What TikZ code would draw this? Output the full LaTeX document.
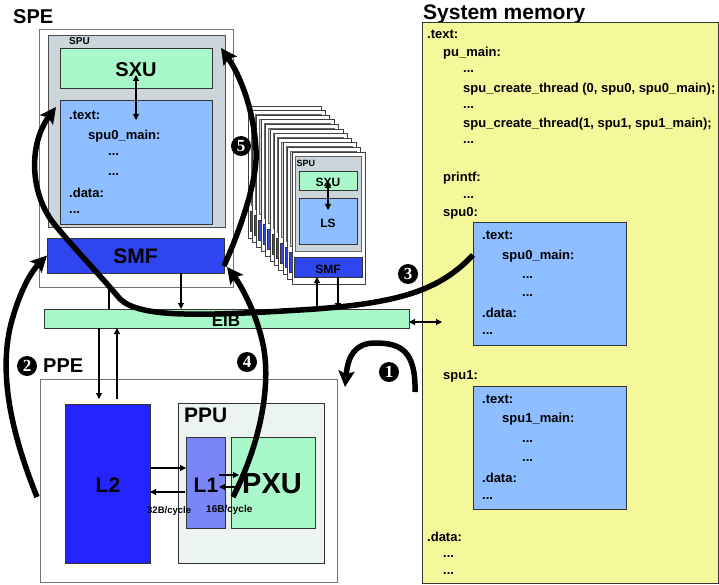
\documentclass[tikz,border=0pt]{standalone}
\usepackage{fontspec}
\setmainfont{Liberation Sans}
\newfontfamily\numfont{Liberation Serif}
\usetikzlibrary{arrows.meta}

\definecolor{mint}{HTML}{A9F8CA}
\definecolor{lsblue}{HTML}{8EBEFF}
\definecolor{smfblue}{HTML}{2E45F0}
\definecolor{ltwo}{HTML}{2424FF}
\definecolor{lone}{HTML}{7A86F8}
\definecolor{spugray}{HTML}{CCD5DA}
\definecolor{ppugray}{HTML}{ECF4F2}
\definecolor{memyellow}{HTML}{F5F79B}

\tikzset{
  fs/.style={font=\bfseries\fontsize{#1}{#1}\selectfont},
  box/.style={draw=black!80, line width=0.9pt, inner sep=0pt, outer sep=0pt, anchor=north west},
  code/.style={fs=13, inner sep=0pt, anchor=base west},
  title/.style={inner sep=0pt, anchor=base west},
  mid/.style={inner sep=0pt, anchor=base},
  link/.style={line width=1.1pt, -{Triangle[length=6pt,width=6pt]}},
  link2/.style={line width=1.1pt, {Triangle[length=6pt,width=6pt]}-{Triangle[length=6pt,width=6pt]}},
  flow/.style={line width=5.5pt, -{Stealth[length=16pt,width=16pt,inset=3pt]}},
  badge/.style={circle, fill=black, text=white, inner sep=0pt, minimum size=20pt,
                font=\numfont\bfseries\fontsize{17}{17}\selectfont},
}

\begin{document}
\begin{tikzpicture}[x=1pt,y=-1pt]
\useasboundingbox (0,0) rectangle (719,585);
\fill[white] (0,0) rectangle (719,585);

% ---------------- SPE 0 ----------------
\node[title, fs=20] (spelabel) at (13,23.5) {SPE};
\node[box, draw=black!55, fill=white, minimum width=194pt, minimum height=258pt] (spe) at (39,29) {};
\node[box, draw=black!70, fill=spugray, minimum width=177pt, minimum height=192pt] (spu) at (48,35) {};
\node[title, fs=10] (spulabel) at (69,44.5) {SPU};
\node[box, fill=mint, minimum width=152pt, minimum height=40pt] (sxu) at (60,48) {};
\node[mid, fs=20] (sxulabel) at (136,77) {SXU};
\node[box, fill=lsblue, minimum width=152pt, minimum height=124pt] (ls) at (60,100) {};
\node[code] (ls1) at (69,119.5) {.text:};
\node[code] (ls2) at (88,139.5) {spu0\_main:};
\node[code] (ls3) at (108,156) {...};
\node[code] (ls4) at (108,176) {...};
\node[code] (ls5) at (69,197.5) {.data:};
\node[code] (ls6) at (69,214) {...};
\draw[link2] ([yshift=-7pt]sxu.center) -- ([yshift=42pt]ls.center);
\node[box, fill=smfblue, minimum width=177pt, minimum height=35pt] (smf) at (47,238) {};
\node[mid, fs=21] (smflabel) at (135.5,263) {SMF};

% ---------------- stack of further SPEs (only the front one is labelled) ----------------
\foreach \i in {0,...,10} {
  \pgfmathsetmacro\cx{248+4.4*\i}
  \pgfmathsetmacro\cy{106+4.6*\i}
  \begin{scope}[shift={(\cx,\cy)}]
    \node[box, draw=black!75, fill=white, minimum width=73pt, minimum height=132pt] (card\i) at (0,0) {};
    \node[box, draw=black!60, fill=spugray, minimum width=66pt, minimum height=95pt] (cspu\i) at (3,4) {};
    \node[box, fill=mint, minimum width=58pt, minimum height=19pt] (csxu\i) at (7,19) {};
    \node[box, fill=lsblue, minimum width=58pt, minimum height=46pt] (cls\i) at (7,46) {};
    \node[box, fill=smfblue, minimum width=68pt, minimum height=20pt] (csmf\i) at (2,105) {};
  \end{scope}
}
\begin{scope}[shift={(292,152)}]
  \node[title, fs=9] (cspul) at (4.5,14.5) {SPU};
  \node[mid, fs=12] (csxul) at (36,35) {SXU};
  \node[mid, fs=12] (clsl) at (36,75) {LS};
  \node[mid, fs=12] (csmfl) at (36,121) {SMF};
\end{scope}
\draw[link2] ([yshift=-1.5pt]csxu10.center) -- ([yshift=11pt]cls10.center);

% ---------------- EIB ----------------
\node[box, fill=mint, minimum width=365pt, minimum height=19pt] (eib) at (44,309) {};
\node[mid, fs=17] (eiblabel) at (226,326) {EIB};

\path ([xshift=45.5pt]smf.south) coordinate (smfout);
\draw[link] (smfout) -- (smfout |- eib.north);
\path ([xshift=-27pt]spe.south) coordinate (spein);
\draw[line width=1.1pt] (spein |- eib.north) -- (spein);
\path ([xshift=-11pt]csmf10.south) coordinate (cardin);
\draw[link] (cardin |- eib.north) -- (cardin);
\path ([xshift=10pt]csmf10.south) coordinate (cardout);
\draw[link] (cardout) -- (cardout |- eib.north);

% ---------------- PPE ----------------
\node[title, fs=20] (ppelabel) at (43,372) {PPE};
\node[box, draw=black!55, fill=white, minimum width=297pt, minimum height=203pt] (ppe) at (40,379) {};
\node[box, fill=ltwo, minimum width=85pt, minimum height=159pt] (l2) at (65,404) {};
\node[mid, fs=21] (l2label) at (108,492) {L2};
\node[box, fill=ppugray, minimum width=146pt, minimum height=160pt] (ppu) at (178,403) {};
\node[title, fs=21] (ppulabel) at (184,422) {PPU};
\node[box, fill=lone, minimum width=39pt, minimum height=91pt] (l1) at (186,437) {};
\node[box, fill=mint, minimum width=84pt, minimum height=91pt] (pxu) at (231,437) {};
\node[title, fs=21] (l1label) at (193.5,492) {L1};
\node[title, fs=29] (pxulabel) at (242,493) {PXU};

\path ([xshift=-8.5pt,yshift=5pt]l2.north) coordinate (l2in);
\draw[link] (l2in |- eib.south) -- (l2in);
\path ([xshift=9.5pt,yshift=5pt]l2.north) coordinate (l2out);
\draw[link] (l2out) -- (l2out |- eib.south);

\path ([yshift=15.5pt]l2.east) coordinate (busa) ([yshift=-8.5pt]l2.east) coordinate (busb);
\draw[link] (busa) -- (busa -| l1.west);
\draw[link] ([xshift=-1pt]busb -| l1.west) -- (busb);
\node[title, fs=9.5] (bw32) at (147,513) {32B/cycle};

\coordinate (pxa) at (219,475);
\coordinate (pxb) at (239,475);
\coordinate (pxc) at (239,487);
\coordinate (pxd) at (219,487);
\draw[link] (pxa) -- (pxb);
\draw[link] (pxc) -- (pxd);
\node[title, fs=10] (bw16) at (206,512) {16B/cycle};

% ---------------- system memory ----------------
\node[title, fs=21] (memlabel) at (423,19.5) {System memory};
\node[box, fill=memyellow, minimum width=296pt, minimum height=561pt] (mem) at (422,22) {};
\node[code] (mt1) at (427,39) {.text:};
\node[code] (mt2) at (443,57) {pu\_main:};
\node[code] (mt3) at (463,72.5) {...};
\node[code] (mt4) at (463,92.5) {spu\_create\_thread (0, spu0, spu0\_main);};
\node[code] (mt5) at (463,109) {...};
\node[code] (mt6) at (463,127.5) {spu\_create\_thread(1, spu1, spu1\_main);};
\node[code] (mt7) at (463,144) {...};
\node[code] (mt8) at (443,181.5) {printf:};
\node[code] (mt9) at (463,199) {...};
\node[code] (mt10) at (443,216.5) {spu0:};

\node[box, fill=lsblue, minimum width=153pt, minimum height=123pt] (m0) at (473,222) {};
\node[code] (m0a) at (482,240) {.text:};
\node[code] (m0b) at (502,259) {spu0\_main:};
\node[code] (m0c) at (522,278) {...};
\node[code] (m0d) at (522,296) {...};
\node[code] (m0e) at (482,317) {.data:};
\node[code] (m0f) at (482,334) {...};

\node[code] (mt11) at (443,379) {spu1:};
\node[box, fill=lsblue, minimum width=153pt, minimum height=123pt] (m1) at (473,386) {};
\node[code] (m1a) at (482,403) {.text:};
\node[code] (m1b) at (502,422) {spu1\_main:};
\node[code] (m1c) at (522,442) {...};
\node[code] (m1d) at (522,461) {...};
\node[code] (m1e) at (482,482) {.data:};
\node[code] (m1f) at (482,499) {...};

\node[code] (mt12) at (427,541) {.data:};
\node[code] (mt13) at (443,557) {...};
\node[code] (mt14) at (443,574) {...};

\coordinate (memport) at (442,322);
\draw[link2] (memport -| eib.east) -- (memport);

% ---------------- program flow ----------------
% 1: PPE runs pu_main from system memory
\coordinate (f1s) at (415,392);
\coordinate (f1e) at (345,387);
\draw[flow] (f1s) .. controls (416,350) and (400,343) .. (375,343)
                  .. controls (355,343) and (348,356) .. (f1e);
% 2: PPE programs the SPE's SMF
\coordinate (f2s) at (37,497);
\draw[flow] (f2s) .. controls (10,430) and (-2,370) .. (12,320)
                  .. controls (20,292) and (30,273) .. (smf.west);
% 3: spu0 image is copied into the local store
\coordinate (f3s) at (473,255);
\coordinate (f3e) at (56,107);
\draw[flow] (f3s) .. controls (440,290) and (400,304) .. (300,310)
                  .. controls (200,316) and (140,318) .. (120,299)
                  .. controls (100,275) and (80,255) .. (55,225)
                  .. controls (30,195) and (28,145) .. (f3e);
% 4: PXU signals the SMF
\coordinate (f4s) at (233,497);
\coordinate (f4e) at (227,267);
\draw[flow] (f4s) .. controls (262,440) and (272,380) .. (262,340)
                  .. controls (255,310) and (240,284) .. (f4e);
% 5: SMF starts the SXU
\coordinate (f5s) at (224,266);
\coordinate (f5e) at (221,48);
\draw[flow] (f5s) .. controls (240,230) and (258,180) .. (256,150)
                  .. controls (254,110) and (240,75) .. (f5e);

\node[badge] (b1) at (389,372) {1};
\node[badge] (b2) at (27,366) {2};
\node[badge] (b3) at (408,274) {3};
\node[badge] (b4) at (247,362) {4};
\node[badge] (b5) at (241,146) {5};
\end{tikzpicture}
\end{document}
